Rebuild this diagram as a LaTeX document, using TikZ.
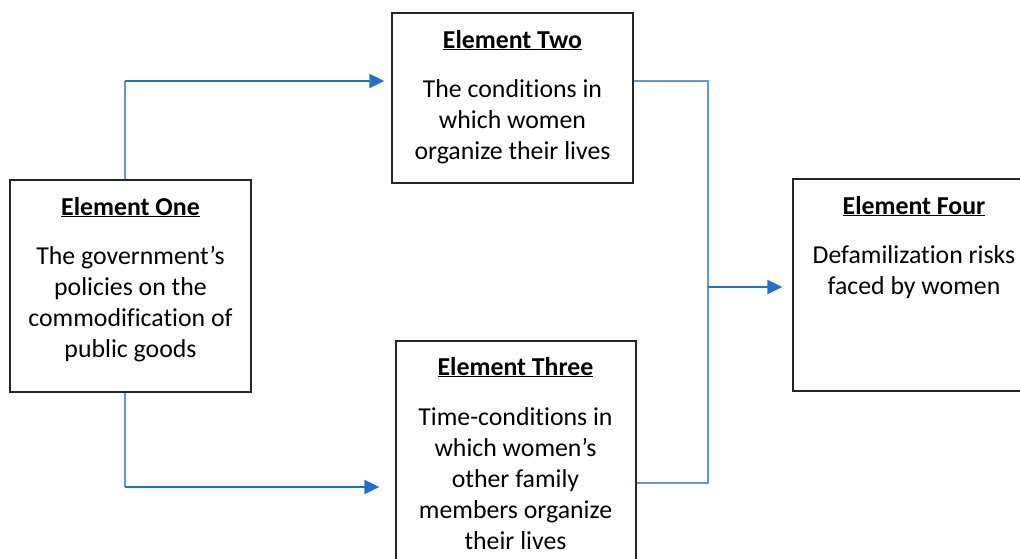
\documentclass[tikz,border=0pt]{standalone}
\usepackage{fontspec}
\setmainfont{Carlito}[Ligatures=NoCommon]
\usetikzlibrary{arrows.meta}
\definecolor{lineblue}{HTML}{5B9BD5}
\definecolor{arrowblue}{HTML}{1F72C8}
\begin{document}
\begin{tikzpicture}[x=1pt,y=-1pt,
  box/.style={draw=black!85,line width=1.3pt,inner sep=0pt},
  ttl/.style={font=\fontsize{25.8}{31}\selectfont\bfseries,anchor=base,inner sep=0pt},
  body/.style={font=\fontsize{25.8}{31}\selectfont,align=center,anchor=base,inner sep=0pt},
  conn/.style={draw=lineblue,line width=1.6pt},
  arr/.style={draw=arrowblue,line width=2pt,-{Triangle[length=15pt,width=14pt]}}]
\useasboundingbox (0,0) rectangle (1020,558);
\clip (0,0) rectangle (1020,558);
\fill[white] (0,0) rectangle (1020,558);
% boxes
\node[box,minimum width=241pt,minimum height=212pt] (one) at (130.5,286) {};
\node[box,minimum width=241pt,minimum height=170pt] (two) at (512.5,98) {};
\node[box,minimum width=240pt,minimum height=259pt] (three) at (516,470.5) {};
\node[box,minimum width=242pt,minimum height=212pt] (four) at (914,285) {};
% texts (body nodes anchored at the baseline of their last line)
\node[ttl] (t1) at (130.5,215) {\underline{Element One}};
\node[body] (b1) at (130.5,357) {The government’s\\policies on the\\commodification of\\public goods};
\node[ttl] (t2) at (512.5,48) {\underline{Element Two}};
\node[body] (b2) at (512.5,159) {The conditions in\\which women\\organize their lives};
\node[ttl] (t3) at (515.5,375) {\underline{Element Three}};
\node[body] (b3) at (515.5,549) {Time-conditions in\\which women’s\\other family\\members organize\\their lives};
\node[ttl] (t4) at (914,214) {\underline{Element Four}};
\node[body] (b4) at (914,294) {Defamilization risks\\faced by women};
% connectors
\coordinate (a1) at (125,81);
\coordinate (a2) at (125,487);
\coordinate (j1) at (708,81);
\coordinate (j2) at (708,483);
\coordinate (j3) at (708,287);
\draw[conn] (one.north -| a1) -- (a1);
\draw[arr,shorten >=7pt] (a1) -- (two.west |- a1);
\draw[conn] (one.south -| a2) -- (a2);
\draw[arr,shorten >=16pt] (a2) -- (three.west |- a2);
\draw[conn] (two.east |- j1) -- (j1) -- (j2) -- (three.east |- j2);
\draw[arr,shorten >=10pt] (j3) -- (four.west |- j3);
\end{tikzpicture}
\end{document}
